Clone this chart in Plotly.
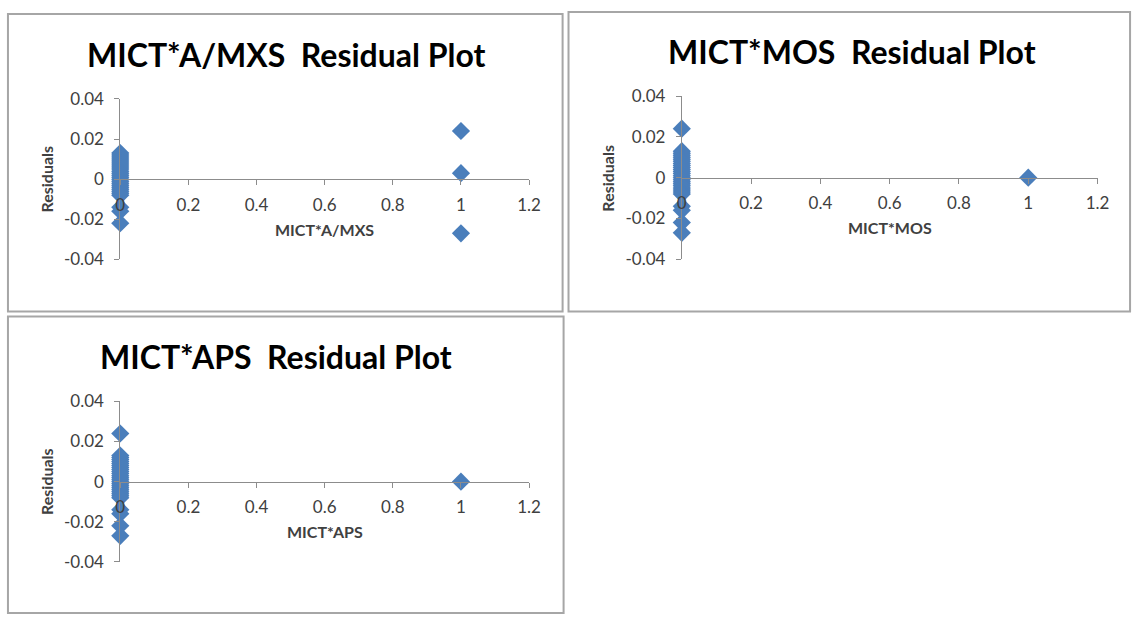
import plotly.graph_objects as go

# ---------------- data ----------------
titles = ["MICT*A/MXS  Residual Plot", "MICT*MOS  Residual Plot", "MICT*APS  Residual Plot"]
x_titles = ["MICT*A/MXS", "MICT*MOS", "MICT*APS"]
y_title = "Residuals"

x_tick_vals = [0, 0.2, 0.4, 0.6, 0.8, 1, 1.2]
x_tick_text = ["0", "0.2", "0.4", "0.6", "0.8", "1", "1.2"]
y_tick_vals = [-0.04, -0.02, 0, 0.02, 0.04]
y_tick_text = ["-0.04", "-0.02", "0", "0.02", "0.04"]

# panel 1: MICT*A/MXS
p1_x = [0]*25 + [1, 1, 1]
p1_y = [0.013, 0.012, 0.011, 0.010, 0.009, 0.008, 0.007, 0.006, 0.005, 0.004,
        0.003, 0.002, 0.001, 0.000, -0.001, -0.002, -0.003, -0.004, -0.005,
        -0.006, -0.007, -0.008, -0.014, -0.016, -0.022,
        0.024, 0.003, -0.027]
# panel 2: MICT*MOS
p2_x = [0]*27 + [1]
p2_y = [0.024, 0.013, 0.012, 0.011, 0.010, 0.009, 0.008, 0.007, 0.006, 0.005,
        0.004, 0.003, 0.002, 0.001, 0.000, -0.001, -0.002, -0.003, -0.004,
        -0.005, -0.006, -0.007, -0.008, -0.014, -0.016, -0.022, -0.027,
        0.000]
# panel 3: MICT*APS
p3_x = [0]*27 + [1]
p3_y = [0.024, 0.013, 0.012, 0.011, 0.010, 0.009, 0.008, 0.007, 0.006, 0.005,
        0.004, 0.003, 0.002, 0.001, 0.000, -0.001, -0.002, -0.003, -0.004,
        -0.005, -0.006, -0.007, -0.008, -0.014, -0.016, -0.022, -0.027,
        0.000]

# ---------------- layout geometry (pixels) ----------------
W, H = 1146, 625
def px(x): return x / W
def py(y): return 1 - y / H

panels = [
    dict(xl=117, xr=532, yt=91, yb=257, tx=286, ty=45, rect=(3, 3, 566, 311), data=(p1_x, p1_y)),
    dict(xl=687, xr=1109, yt=88, yb=257, tx=860, ty=42, rect=(572, 1, 1142, 311), data=(p2_x, p2_y)),
    dict(xl=117, xr=532, yt=404, yb=570, tx=275, ty=357, rect=(3, 316, 567, 623), data=(p3_x, p3_y)),
]

YMIN, YMAX = -0.04, 0.04
XMIN, XMAX = 0, 1.2
MARK = "#4A7EBB"
AX = "#8C8C8C"
FONT = "Lato"
TXT = "#404040"

fig = go.Figure()
layout = dict(
    autosize=True, margin=dict(l=0, r=0, t=0, b=0),
    paper_bgcolor="white", plot_bgcolor="rgba(0,0,0,0)",
    showlegend=False, font=dict(family=FONT, color=TXT),
    shapes=[], annotations=[],
)

for i, p in enumerate(panels, start=1):
    xs, ys = p["data"]
    suffix = "" if i == 1 else str(i)
    fig.add_trace(go.Scatter(
        x=xs, y=ys, mode="markers", xaxis="x" + suffix, yaxis="y" + suffix,
        marker=dict(symbol="diamond", size=14, color=MARK, line=dict(width=0)),
        cliponaxis=False, hoverinfo="x+y",
    ))
    yd = [py(p["yb"]), py(p["yt"])]
    xd = [px(p["xl"]), px(p["xr"])]
    zero_pos = yd[0] + (0 - YMIN) / (YMAX - YMIN) * (yd[1] - yd[0])
    layout["xaxis" + suffix] = dict(
        domain=xd, range=[XMIN, XMAX], anchor="free", position=zero_pos,
        tickvals=x_tick_vals, ticktext=x_tick_text,
        showgrid=False, zeroline=False, showline=True, linecolor=AX, linewidth=1,
        ticks="outside", ticklen=5, tickcolor=AX, ticklabelstandoff=5,
        tickfont=dict(family=FONT, size=17, color=TXT),
        fixedrange=True,
    )
    layout["yaxis" + suffix] = dict(
        domain=yd, range=[YMIN, YMAX], anchor="x" + suffix,
        tickvals=y_tick_vals, ticktext=y_tick_text,
        showgrid=False, zeroline=False, showline=True, linecolor=AX, linewidth=1,
        ticks="outside", ticklen=5, tickcolor=AX, ticklabelstandoff=7,
        tickfont=dict(family=FONT, size=17, color=TXT),
        fixedrange=True,
    )
    x0, y0, x1, y1 = p["rect"]
    layout["shapes"].append(dict(
        type="rect", xref="paper", yref="paper",
        x0=px(x0), x1=px(x1), y0=py(y1), y1=py(y0),
        line=dict(color="#A6A6A6", width=2), fillcolor="rgba(0,0,0,0)", layer="below",
    ))
    layout["annotations"].append(dict(
        text="<b>" + titles[i-1] + "</b>", xref="paper", yref="paper",
        x=px(p["tx"]), y=py(p["ty"]), xanchor="center", yanchor="middle",
        showarrow=False, font=dict(family=FONT, size=32, color="black"),
    ))
    layout["annotations"].append(dict(
        text="<b>" + x_titles[i-1] + "</b>", xref="paper", yref="paper",
        x=(xd[0] + xd[1]) / 2, y=py((p["yt"] + p["yb"]) / 2 + 52),
        xanchor="center", yanchor="middle",
        showarrow=False, font=dict(family=FONT, size=16, color=TXT),
    ))
    layout["annotations"].append(dict(
        text="<b>" + y_title + "</b>", xref="paper", yref="paper",
        x=px(p["xl"] - 75), y=(yd[0] + yd[1]) / 2, textangle=-90,
        xanchor="center", yanchor="middle",
        showarrow=False, font=dict(family=FONT, size=16, color=TXT),
    ))

fig.update_layout(**layout)
fig.write_html("out.html", config={"displayModeBar": False},
               default_width="1146px",
               default_height="625px; position:absolute; left:0; top:0")
